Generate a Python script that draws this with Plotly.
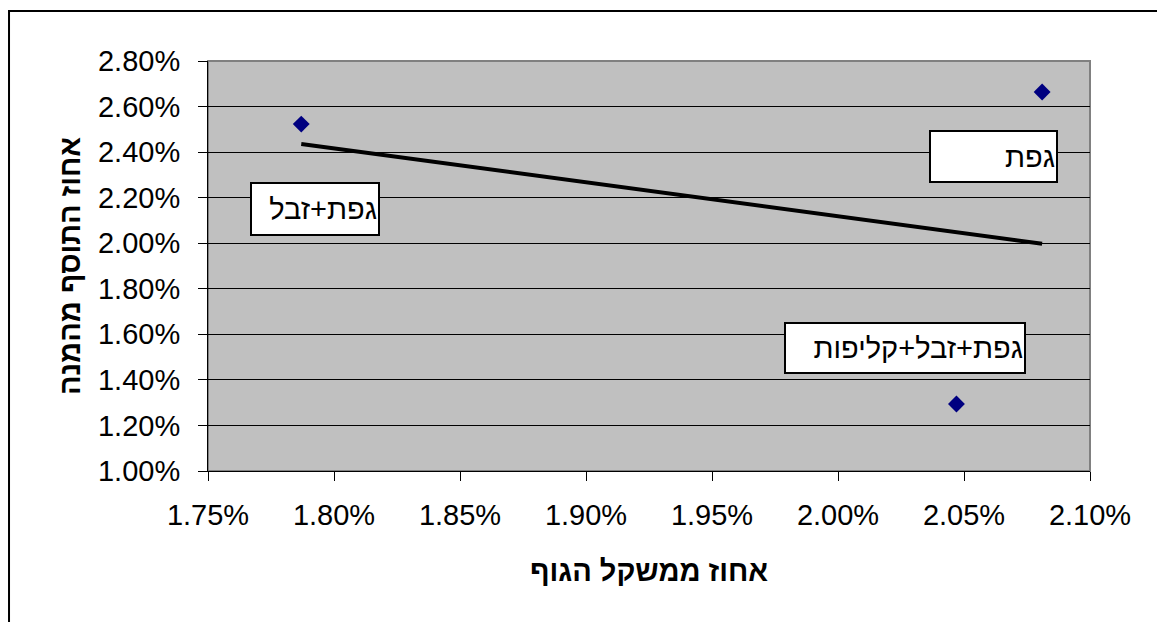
import numpy as np
import plotly.graph_objects as go

# Body-weight share (x) vs. additive share of the ration (y), in percent
labels = ["גפת+זבל", "גפת", "גפת+זבל+קליפות"]
body_weight_pct = [1.787, 2.081, 2.047]
additive_pct = [2.523, 2.664, 1.294]

x_ticks = [1.75, 1.80, 1.85, 1.90, 1.95, 2.00, 2.05, 2.10]
y_ticks = [1.00, 1.20, 1.40, 1.60, 1.80, 2.00, 2.20, 2.40, 2.60, 2.80]

# Linear trend line over the span of the data
slope, intercept = np.polyfit(body_weight_pct, additive_pct, 1)
trend_x = [min(body_weight_pct), max(body_weight_pct)]
trend_y = [slope * v + intercept for v in trend_x]

FONT = "Liberation Sans, Arial, sans-serif"

fig = go.Figure()
fig.add_trace(go.Scatter(
    x=trend_x, y=trend_y, mode="lines",
    line=dict(color="black", width=4), hoverinfo="skip"))
fig.add_trace(go.Scatter(
    x=body_weight_pct, y=additive_pct, mode="markers", text=labels,
    marker=dict(symbol="diamond", size=13, color="#000080")))

# Label boxes: (label index, paper x, paper y, width, height)
boxes = [
    (0, 0.1213, 0.639, 124, 48),
    (1, 0.8905, 0.767, 123, 47),
    (2, 0.7902, 0.3000, 236, 46),
]
for idx, bx, by, w, h in boxes:
    fig.add_annotation(
        xref="paper", yref="paper", x=bx, y=by, showarrow=False,
        text=labels[idx], align="right", width=w, height=h,
        font=dict(family=FONT, size=29, color="black"),
        bgcolor="white", bordercolor="black", borderwidth=2, borderpad=1,
        xanchor="center", yanchor="middle")

# Outer chart frame and gray plot-area edge
fig.add_shape(type="rect", xref="paper", yref="paper",
              x0=-0.2256, y0=-0.40, x1=1.12, y1=1.122,
              line=dict(color="black", width=2), layer="above")
fig.add_shape(type="rect", xref="paper", yref="paper",
              x0=0, y0=0, x1=1, y1=1,
              line=dict(color="#808080", width=2), layer="below")

fig.update_layout(
    width=1157, height=622,
    margin=dict(l=208, r=67, t=61, b=151),
    paper_bgcolor="white", plot_bgcolor="#C0C0C0",
    showlegend=False,
    font=dict(family=FONT, color="black"),
)
fig.update_xaxes(
    range=[1.75, 2.10], tickvals=x_ticks,
    ticktext=[f"{v:.2f}%" for v in x_ticks],
    showgrid=False, zeroline=False,
    showline=True, linecolor="black", linewidth=1,
    ticks="outside", ticklen=9, tickcolor="black", ticklabelstandoff=9,
    tickfont=dict(family=FONT, size=29),
    title=dict(text="<b>אחוז ממשקל הגוף</b>", font=dict(family=FONT, size=29),
               standoff=30),
)
fig.update_yaxes(
    range=[1.00, 2.80], tickvals=y_ticks,
    ticktext=[f"{v:.2f}%" for v in y_ticks],
    showgrid=True, gridcolor="black", gridwidth=1, zeroline=False,
    showline=True, linecolor="black", linewidth=1,
    ticks="outside", ticklen=9, tickcolor="black", ticklabelstandoff=12,
    tickfont=dict(family=FONT, size=29),
    title=dict(text="<b>אחוז התוסף מהמנה</b>", font=dict(family=FONT, size=29),
               standoff=8),
)

fig.write_html("out.html")
